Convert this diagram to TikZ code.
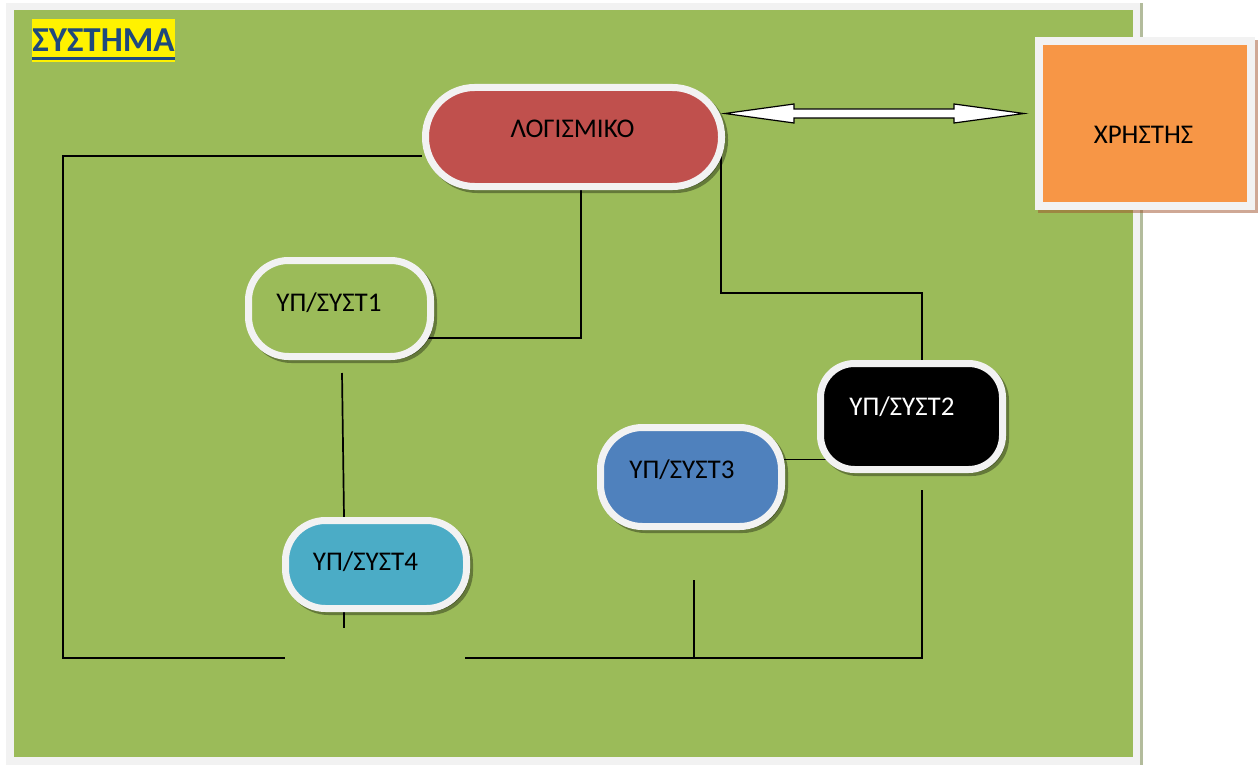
\documentclass[tikz,border=0pt]{standalone}
\usepackage{fontspec}
\setmainfont{Carlito}
\usetikzlibrary{calc}
\definecolor{panel}{HTML}{9BBB59}
\definecolor{rim}{HTML}{F2F2F2}
\definecolor{rimshade}{HTML}{B3BC9C}
\definecolor{softred}{HTML}{C0504D}
\definecolor{userorange}{HTML}{F79646}
\definecolor{steelblue}{HTML}{4F81BD}
\definecolor{aqua}{HTML}{4BACC6}
\definecolor{navy}{HTML}{1F497D}
\definecolor{userbrown}{HTML}{A0522D}
\pgfdeclarelayer{back}
\pgfdeclarelayer{wires}
\pgfsetlayers{back,wires,main}

\begin{document}
\begin{tikzpicture}[x=1pt,y=-1pt,
  pill/.style={draw=rim, line width=7pt, inner sep=0pt,
    preaction={draw=black, fill=black, opacity=0.35,
      transform canvas={shift={(3pt,-3pt)}}}},
  lbl/.style={font=\fontsize{27}{31}\selectfont, inner sep=0pt, anchor=base},
  wire/.style={line width=1.7pt}]

% page and outer frame
\begin{pgfonlayer}{back}
  \fill[white] (0,0) rectangle (1260,765);
  \fill[rim] (6,3) rectangle (1140,765);
  \fill[rimshade] (1140,3) rectangle (1143,765);
  \fill[panel] (14,10) rectangle (1133,757);
\end{pgfonlayer}
\useasboundingbox (0,0) rectangle (1260,765);

% title
\node[fill=yellow, inner sep=0pt, minimum width=143pt, minimum height=43pt,
      text=navy, font=\bfseries\fontsize{35}{39}\selectfont] (title) at (103.5,40.5) {ΣΥΣΤΗΜΑ};
\draw[navy, line width=3pt] ($(title.south west)+(0,-3.5)$) -- ($(title.south east)+(0,-3.5)$);

% rounded blocks
\node[pill, fill=softred, minimum width=296pt, minimum height=99pt, rounded corners=49pt] (log) at (573.5,137) {};
\node[pill, fill=panel, minimum width=182pt, minimum height=96pt, rounded corners=40pt] (s1) at (339.5,308.5) {};
\node[pill, fill=black, minimum width=182pt, minimum height=106pt, rounded corners=34pt] (s2) at (911.5,416.5) {};
\node[pill, fill=steelblue, minimum width=181pt, minimum height=99pt, rounded corners=42pt] (s3) at (691,477) {};
\node[pill, fill=aqua, minimum width=181pt, minimum height=88pt, rounded corners=40pt] (s4) at (376,564.5) {};

% block captions
\node[lbl] (logt) at ($(log)+(-1,0)$) {ΛΟΓΙΣΜΙΚΟ};
\node[lbl] (s1t) at ($(s1)+(-10.5,2.5)$) {ΥΠ/ΣΥΣΤ1};
\node[lbl, text=white] (s2t) at ($(s2)+(-9.5,-1.5)$) {ΥΠ/ΣΥΣΤ2};
\node[lbl] (s3t) at ($(s3)+(-9,1)$) {ΥΠ/ΣΥΣΤ3};
\node[lbl] (s4t) at ($(s4)+(-10.5,5.5)$) {ΥΠ/ΣΥΣΤ4};

% user box
\node[draw=rim, line width=8pt, fill=userorange, inner sep=0pt,
      minimum width=212pt, minimum height=165pt,
      preaction={draw=userbrown, fill=userbrown, opacity=0.5,
        transform canvas={shift={(3pt,-3pt)}}}] (usr) at (1145,123.5) {};
\node[lbl] (usrt) at ($(usr)+(-1.5,19.5)$) {ΧΡΗΣΤΗΣ};

% wiring (ends tucked under the blocks)
\coordinate (bl) at (63,658);
\coordinate (gapL) at (285,658);
\coordinate (gapR) at (465,658);
\coordinate (br) at (922,658);
\coordinate (s2low) at (922,490);
\coordinate (s3low) at (694,580);
\coordinate (s1low) at (342,373);
\coordinate (s4low) at (344,628);
\coordinate (elbow) at (721,293);
\coordinate (mid) at (800,459.5);
\begin{pgfonlayer}{wires}
  \draw[wire] ($(log.west)+(0,19)$) -| (bl) -- (gapL);
  \draw[wire] (gapR) -- (br) -- (s2low);
  \draw[wire] (s3low) -- (s3low |- br);
  \draw[wire] ($(log.south)+(7.5,0)$) |- ($(s1.center)+(0,29.5)$);
  \draw[wire] (log.east -| elbow) -- (elbow) -| ($(s2.north)+(10.5,0)$);
  \draw[wire] (s3.center |- mid) -- (s2.center |- mid);
  \draw[wire] (s1low) -- (s4.north -| s4low);
  \draw[wire] (s4.south -| s4low) -- (s4low);
\end{pgfonlayer}

% two-way arrow between software and user
\coordinate (tl) at (725,113.5);
\coordinate (tr) at (1024,113.5);
\draw[line width=1.2pt, fill=white]
  (tl) -- ($(tl)+(69,-9.5)$) -- ++(0,5) -- ($(tr)+(-70,-4.5)$) -- ++(0,-5)
  -- (tr) -- ($(tr)+(-70,9.5)$) -- ++(0,-5) -- ($(tl)+(69,4.5)$) -- ++(0,5) -- cycle;

\end{tikzpicture}
\end{document}
